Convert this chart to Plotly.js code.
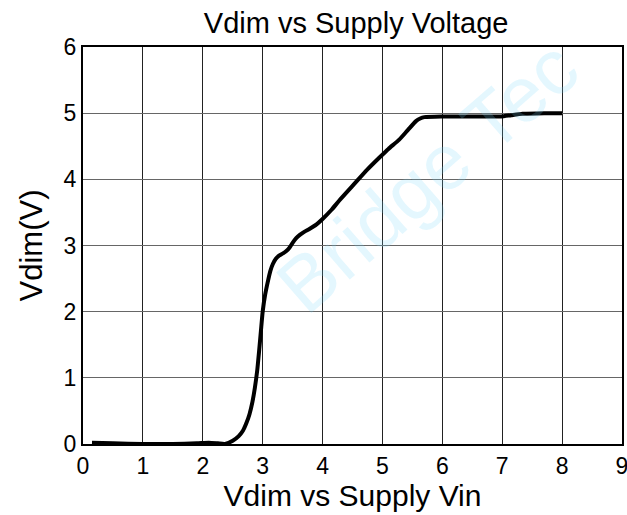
<!DOCTYPE html>
<html>
<head>
<meta charset="utf-8">
<script src="https://cdn.plot.ly/plotly-3.0.1.min.js"></script>
<style>
  html, body { margin: 0; padding: 0; background: #fff; }
  #chart { width: 627px; height: 515px; }
</style>
</head>
<body>
<div id="chart"></div>
<script>
// Supply voltage (V) and the resulting Vdim (V)
var supplyVin = [0.15, 0.5, 1.0, 1.5, 1.9, 2.1, 2.25, 2.37, 2.5, 2.6, 2.67, 2.73, 2.78, 2.83, 2.87, 2.91, 2.94, 2.97, 3.0, 3.04, 3.09, 3.13, 3.17, 3.22, 3.28, 3.34, 3.4, 3.45, 3.5, 3.56, 3.62, 3.7, 3.78, 3.9, 4.0, 4.15, 4.28, 4.5, 4.75, 4.95, 5.1, 5.28, 5.42, 5.56, 5.63, 5.7, 6.0, 6.5, 6.98, 7.15, 7.34, 7.7, 8.0];
var vdim = [0.02, 0.01, 0.0, 0.0, 0.01, 0.02, 0.01, 0.0, 0.05, 0.12, 0.2, 0.32, 0.45, 0.64, 0.85, 1.12, 1.4, 1.7, 2.0, 2.25, 2.47, 2.62, 2.72, 2.8, 2.85, 2.88, 2.92, 2.97, 3.04, 3.11, 3.16, 3.21, 3.25, 3.32, 3.4, 3.54, 3.68, 3.9, 4.15, 4.33, 4.46, 4.6, 4.74, 4.88, 4.92, 4.94, 4.95, 4.95, 4.95, 4.97, 4.99, 5.0, 5.0];

var xTicks = [0, 1, 2, 3, 4, 5, 6, 7, 8, 9];
var yTicks = [0, 1, 2, 3, 4, 5, 6];

var trace = {
  x: supplyVin,
  y: vdim,
  type: "scatter",
  mode: "lines",
  line: {color: "#000", width: 4, shape: "spline", smoothing: 0.6},
  hoverinfo: "skip"
};

var layout = {
  width: 627,
  height: 515,
  margin: {l: 83, r: 5, t: 47, b: 71},
  paper_bgcolor: "#fff",
  plot_bgcolor: "#fff",
  font: {family: "Liberation Sans, Arial, sans-serif", color: "#000"},
  showlegend: false,
  title: {
    text: "Vdim vs Supply Voltage",
    font: {size: 29, color: "#000"},
    x: 0.568, xanchor: "center",
    y: 0.955, yanchor: "middle"
  },
  xaxis: {
    title: {text: "Vdim vs Supply Vin", font: {size: 30}, standoff: 6},
    range: [0, 9],
    tickvals: xTicks,
    ticktext: xTicks.map(String),
    tickfont: {size: 23},
    ticklabeloverflow: "allow",
    ticks: "",
    showgrid: true,
    gridcolor: "#222",
    gridwidth: 1,
    showline: true,
    linecolor: "#000",
    linewidth: 2,
    mirror: true,
    zeroline: false,
    fixedrange: true
  },
  yaxis: {
    title: {text: "Vdim(V)", font: {size: 31}, standoff: 12},
    range: [0, 6],
    tickvals: yTicks,
    ticktext: yTicks.map(String),
    tickfont: {size: 23},
    ticks: "",
    showgrid: true,
    gridcolor: "#666",
    gridwidth: 1.3,
    showline: true,
    linecolor: "#000",
    linewidth: 2,
    mirror: true,
    zeroline: false,
    fixedrange: true
  },
  annotations: [{
    text: "Bridge Tec",
    xref: "paper", yref: "paper",
    x: 0.64, y: 0.28,
    showarrow: false,
    textangle: -41,
    font: {size: 78, color: "rgba(120, 215, 250, 0.2)"}
  }]
};

Plotly.newPlot("chart", [trace], layout, {staticPlot: true, displayModeBar: false});
</script>
</body>
</html>
